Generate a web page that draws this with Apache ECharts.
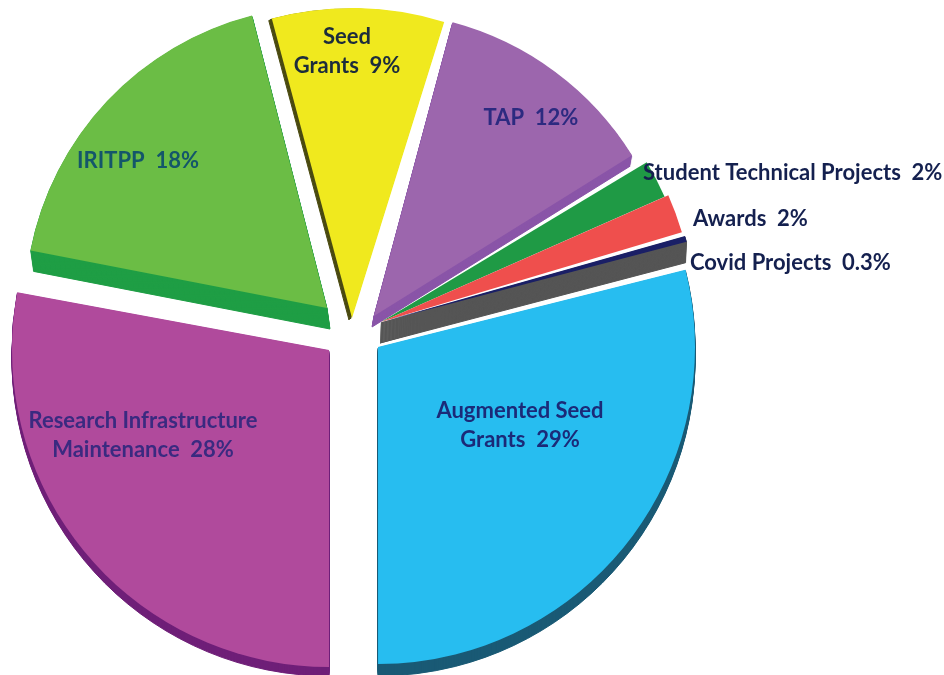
<!DOCTYPE html>
<html>
<head>
<meta charset="utf-8">
<title>Funding share</title>
<script src="https://cdn.jsdelivr.net/npm/echarts@6/dist/echarts.min.js"></script>
<style>
html, body { margin: 0; padding: 0; background: #fff; }
#main { width: 944px; height: 675px; }
</style>
</head>
<body>
<div id="main"></div>
<script>
// data
var names = ["Augmented Seed\nGrants", "Research Infrastructure\nMaintenance", "IRITPP", "Seed\nGrants", "TAP", "Student Technical Projects", "Awards", "Covid Projects"];
var values = [29, 28, 18, 9, 12, 2, 2, 0.3];

// every slice is pulled out by hand in the original, so each gets its own layout
var centers = [[378, 347], [329, 350], [327, 308], [352, 318], [374, 316], [381, 322], [381, 322], [381, 322]];
var radii = [317, 317, 302, 310, 304, 310, 314, 316];
var startAngles = [75.9, 180, 281, 345, 15, 59, 66.2, 74.2];
var faceColors = ["#27bdf0", "#b04a9c", "#6bbd45", "#f0e91e", "#9c66ad", "#1f9a45", "#ef4f4d", "#1a1f66"];
var sideColors = ["#1a5a75", "#6f1f78", "#1f9e45", "#4a4a10", "#8a55a8", "#1f9a45", "#ef4f4d", "#555555"];
var depths = [[0, 12], [0, 9], [3, 21], [-3, 2], [-2, 11], [0, 0], [0, 0], [-1, 21]];

// label anchors
var labelPos = [[520, 425], [143, 435], [138, 161], [347, 51], [531, 118], [643, 173], [693, 219], [690, 263]];
var labelAlign = ["center", "center", "center", "center", "center", "left", "left", "left"];
var labelColors = ["#1b2a78", "#3a2a80", "#14566a", "#1c2c3c", "#2c2a80", "#14204f", "#14204f", "#14204f"];

var total = 0;
for (var i = 0; i < values.length; i++) total += values[i];

function sliceSeries(idx, dx, dy, color, border) {
    return {
        type: 'pie',
        silent: true,
        animation: false,
        clockwise: true,
        startAngle: 90 - startAngles[idx],
        center: [centers[idx][0] + dx, centers[idx][1] + dy],
        radius: radii[idx],
        label: { show: false },
        labelLine: { show: false },
        emphasis: { disabled: true },
        data: [
            { value: values[idx], name: names[idx], itemStyle: { color: color, borderColor: color, borderWidth: border } },
            { value: total - values[idx], name: '', itemStyle: { color: 'transparent', borderWidth: 0 } }
        ]
    };
}

var seriesList = [];
// side walls first: copies of the slice stepped along the depth, so the edge looks solid
for (var s = 0; s < values.length; s++) {
    var steps = Math.abs(depths[s][1]);
    for (var k = steps; k > 0; k--) {
        seriesList.push(sliceSeries(s, depths[s][0] * k / steps, k, sideColors[s], 1));
    }
}
for (var f = 0; f < values.length; f++) {
    seriesList.push(sliceSeries(f, 0, 0, faceColors[f], 0));
}

var labels = [];
for (var n = 0; n < names.length; n++) {
    labels.push({
        type: 'text',
        x: labelPos[n][0],
        y: labelPos[n][1],
        z: 1000,
        silent: true,
        style: {
            text: names[n] + '  ' + values[n] + '%',
            fill: labelColors[n],
            font: 'bold 22px Lato',
            align: labelAlign[n],
            verticalAlign: 'middle',
            lineHeight: 29
        }
    });
}

var chart = echarts.init(document.getElementById('main'));
chart.setOption({
    backgroundColor: '#ffffff',
    animation: false,
    series: seriesList,
    graphic: { elements: labels }
});
</script>
</body>
</html>
